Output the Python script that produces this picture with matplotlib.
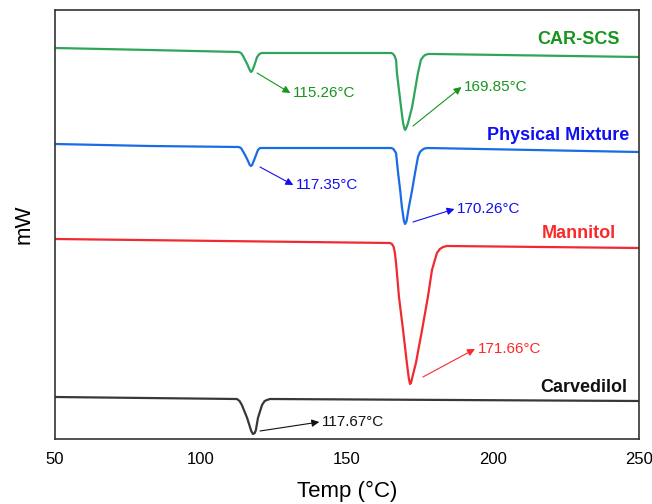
import matplotlib
matplotlib.use('Agg')
import matplotlib.pyplot as plt

plt.rcParams['font.family'] = ['Liberation Sans', 'DejaVu Sans']

# DSC traces (Temp in degC, heat flow in arbitrary mW offsets)
car_scs_t = [50.0, 82.5, 112.9, 113.7, 114.4, 115.8, 116.7, 117.1, 117.5, 118.2, 119.2, 120.0,
             120.8, 133.9, 165.2, 165.8, 166.3, 166.8, 167.1, 167.8, 168.5, 169.2, 169.6,
             169.9, 170.3, 170.9, 172.3, 173.3, 174.3, 175.3, 176.0, 176.7, 177.8, 179.5, 250.0]
car_scs_y = [3.91, 3.89, 3.87, 3.86, 3.83, 3.75, 3.69, 3.67, 3.68, 3.73, 3.82, 3.85,
             3.86, 3.86, 3.86, 3.85, 3.83, 3.79, 3.66, 3.49, 3.32, 3.16, 3.11,
             3.09, 3.11, 3.16, 3.32, 3.49, 3.66, 3.79, 3.82, 3.84, 3.85, 3.85, 3.82]

mix_t = [50.0, 82.5, 112.9, 113.7, 115.1, 116.1, 116.7, 117.1, 117.5, 118.2, 119.5, 120.2,
         120.9, 133.9, 165.2, 165.9, 166.8, 167.5, 168.2, 168.8, 169.5, 169.9, 170.4,
         171.2, 172.3, 173.3, 174.3, 175.0, 175.7, 176.5, 177.7, 250.0]
mix_y = [2.95, 2.93, 2.92, 2.91, 2.84, 2.78, 2.74, 2.73, 2.74, 2.79, 2.89, 2.91,
         2.91, 2.91, 2.91, 2.90, 2.86, 2.66, 2.49, 2.32, 2.18, 2.15, 2.18,
         2.32, 2.49, 2.66, 2.82, 2.87, 2.89, 2.905, 2.91, 2.87]

mannitol_t = [50.0, 164.7, 165.4, 166.0, 166.4, 166.8, 167.8, 169.2, 170.5, 171.2, 171.6,
              171.9, 172.4, 173.6, 175.7, 177.7, 179.1, 180.8, 181.8, 182.9, 184.2, 250.0]
mannitol_y = [2.00, 1.96, 1.95, 1.92, 1.86, 1.76, 1.42, 1.09, 0.76, 0.60, 0.55,
              0.56, 0.62, 0.76, 1.09, 1.42, 1.69, 1.86, 1.90, 1.92, 1.93, 1.91]

carvedilol_t = [50.0, 112.3, 113.2, 114.0, 115.8, 117.2, 117.8, 118.4, 118.8, 119.5, 120.9,
                121.8, 122.6, 123.6, 250.0]
carvedilol_y = [0.42, 0.40, 0.38, 0.34, 0.21, 0.08, 0.05, 0.06, 0.09, 0.21, 0.34,
                0.38, 0.39, 0.40, 0.38]

# peak labels: (text, arrow tail, arrow head/text pos)
green_peaks = [('115.26°C', (119.2, 3.66), (130.6, 3.46)),
               ('169.85°C', (172.6, 3.13), (189.2, 3.52))]
blue_peaks = [('117.35°C', (120.2, 2.72), (131.6, 2.54)),
              ('170.26°C', (172.6, 2.17), (186.8, 2.30))]
red_peaks = [('171.66°C', (176.0, 0.62), (193.8, 0.90))]
black_peaks = [('117.67°C', (120.2, 0.08), (140.5, 0.17))]

series = [
    (car_scs_t, car_scs_y, '#2ea55a', '#17951f', 'CAR-SCS', (215.1, 4.00), green_peaks),
    (mix_t, mix_y, '#1a6be6', '#1010ee', 'Physical Mixture', (197.9, 3.04), blue_peaks),
    (mannitol_t, mannitol_y, '#f02a2f', '#fa2a2a', 'Mannitol', (216.8, 2.06), red_peaks),
    (carvedilol_t, carvedilol_y, '#383838', '#111111', 'Carvedilol', (216.1, 0.52), black_peaks),
]

fig = plt.figure(figsize=(6.52, 5.04), dpi=100)
ax = fig.add_axes([55 / 652, 65 / 504, 584 / 652, 429 / 504])

for t, y, lc, tc, name, npos, peaks in series:
    ax.plot(t, y, color=lc, lw=1.6)
    ax.text(npos[0], npos[1], name, color=tc, fontsize=13, fontweight='bold',
            ha='left', va='center')
    for label, tail, head in peaks:
        ax.annotate('', xy=head, xytext=tail,
                    arrowprops=dict(arrowstyle='-|>', color=tc, lw=0.8,
                                    mutation_scale=11, shrinkA=0, shrinkB=0))
        ax.text(head[0] + 0.9, head[1], label, color=tc, fontsize=11,
                ha='left', va='center')

ax.set_xlim(50, 250)
ax.set_ylim(0, 4.29)
ax.set_xticks([50, 100, 150, 200, 250])
ax.set_yticks([])
ax.tick_params(axis='x', length=0, pad=9, labelsize=12)
for s in ax.spines.values():
    s.set_linewidth(1.2)
    s.set_color('#333333')

ax.set_xlabel('Temp (°C)', fontsize=16, labelpad=10)
ax.set_ylabel('mW', fontsize=16, labelpad=15)

fig.savefig('out.png', dpi=100)
